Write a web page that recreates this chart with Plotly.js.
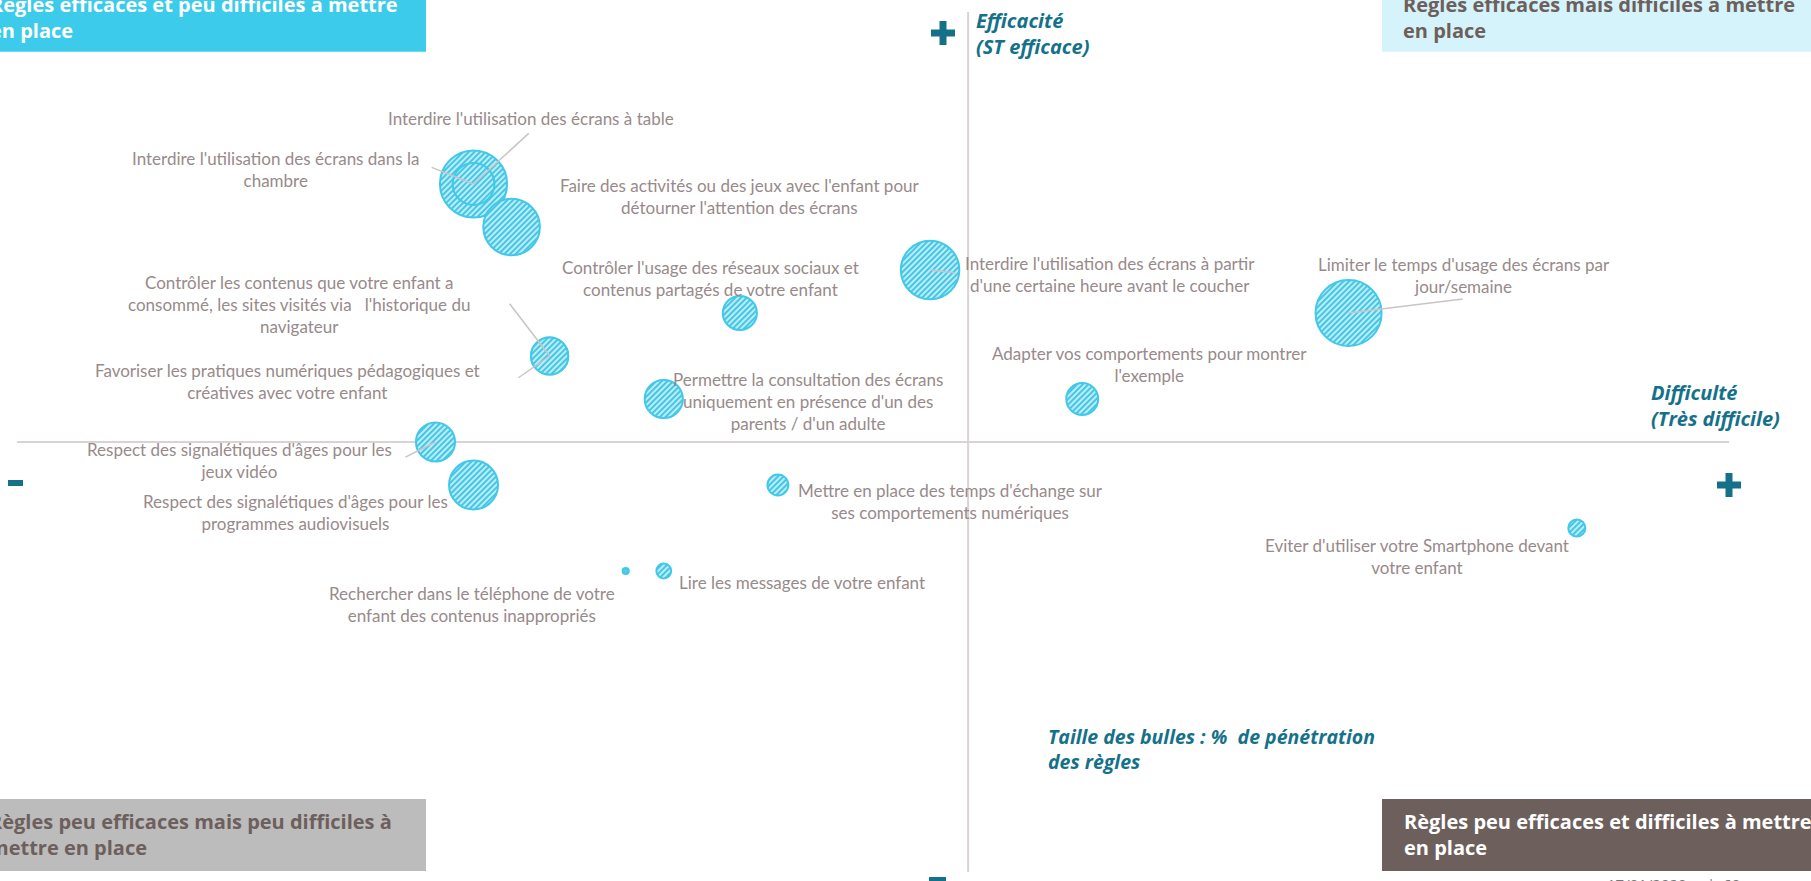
<!DOCTYPE html>
<html>
<head>
<meta charset="utf-8">
<script src="https://cdn.plot.ly/plotly-3.0.1.min.js"></script>
<style>
  html, body { margin: 0; padding: 0; background: #fff; overflow: hidden; }
  #chart { width: 1811px; height: 881px; }
</style>
</head>
<body>
<div id="chart"></div>
<script>
// règles (ordre de dessin : la plus grande bulle d'abord)
const rules = [
  "Interdire l'utilisation des écrans dans la<br>chambre",
  "Interdire l'utilisation des écrans à table",
  "Faire des activités ou des jeux avec l'enfant pour<br>détourner l'attention des écrans",
  "Interdire l'utilisation des écrans à partir<br>d'une certaine heure avant le coucher",
  "Contrôler l'usage des réseaux sociaux et<br>contenus partagés de votre enfant",
  "Contrôler les contenus que votre enfant a<br>consommé, les sites visités via\u00a0\u00a0 l'historique du<br>navigateur",
  "Favoriser les pratiques numériques pédagogiques et<br>créatives avec votre enfant",
  "Respect des signalétiques d'âges pour les<br>jeux vidéo",
  "Respect des signalétiques d'âges pour les<br>programmes audiovisuels",
  "Permettre la consultation des écrans<br>uniquement en présence d'un des<br>parents / d'un adulte",
  "Limiter le temps d'usage des écrans par<br>jour/semaine",
  "Adapter vos comportements pour montrer<br>l'exemple",
  "Mettre en place des temps d'échange sur<br>ses comportements numériques",
  "Lire les messages de votre enfant",
  "Rechercher dans le téléphone de votre<br>enfant des contenus inappropriés",
  "Eviter d'utiliser votre Smartphone devant<br>votre enfant",
];
const difficulte = [-13, -13, -12, -1, -6, -11, -11, -14, -13, -8, 10, 3, -5, -8, -9, 16];
const efficacite = [6, 6, 5, 4, 3, 2, 2, 0, -1, 1, 3, 1, -1, -3, -3, -2];
const penetration = [62, 24, 44, 47, 16, 19, 19, 21, 33, 20, 60, 14, 6, 3, 0.3, 4];

// position des libellés (mêmes unités que les axes)
const labelX = [-18.2, -11.49, -6.02, 3.73, -6.76, -17.59, -17.9, -19.14, -17.69, -4.21, 13.04, 4.78, -0.45, -4.36, -13.03, 11.8];
const labelY = [6.34, 7.53, 5.71, 3.9, 3.8, 3.2, 1.41, -0.43, -1.65, 0.94, 3.87, 1.8, -1.38, -3.26, -3.79, -2.66];
// départ des traits de rappel (null = pas de trait)
const leaderX = [-14.14, -11.51, null, -0.29, null, -12.09, -11.86, -14.83, null, null, 13.04, null, null, null, null, null];
const leaderY = [6.4, 7.21, null, 3.93, null, 3.26, 1.47, -0.37, null, null, 3.33, null, null, null, null, null];

const quadrants = [
  "Règles efficaces et peu difficiles à mettre<br>en place",
  "Règles efficaces mais difficiles à mettre<br>en place",
  "Règles peu efficaces mais peu difficiles à<br>mettre en place",
  "Règles peu efficaces et difficiles à mettre<br>en place",
];

const TEAL = "#15718a";
const BROWN = "#6d5f5c";
const LABEL = "#988a8a";

// pixels -> coordonnées paper (zone de tracé 17..1729 x 12..872)
const px = (x) => (x - 17) / 1712;
const py = (y) => (872 - y) / 860;

window.addEventListener("DOMContentLoaded", () => {
  const chart = document.getElementById("chart");

  const trace = {
    type: "scatter",
    mode: "markers",
    x: difficulte,
    y: efficacite,
    text: rules,
    hoverinfo: "text",
    cliponaxis: false,
    marker: {
      size: penetration,
      sizemode: "area",
      sizeref: 0.0275,
      color: "#c3eef9",
      opacity: 1,
      line: { color: "#42c8e8", width: penetration.map((v) => (v < 1 ? 3.5 : 2)) },
    },
  };

  const annotations = rules.map((t, i) => ({
    x: labelX[i],
    y: labelY[i],
    text: t,
    showarrow: false,
    align: "center",
    font: { family: "Lato, sans-serif", size: 17, color: LABEL },
  }));

  leaderX.forEach((lx, i) => {
    if (lx === null) return;
    annotations.push({
      x: difficulte[i],
      y: efficacite[i],
      ax: lx,
      ay: leaderY[i],
      axref: "x",
      ayref: "y",
      text: " ",
      font: { size: 1 },
      showarrow: true,
      arrowhead: 0,
      arrowwidth: 1.5,
      arrowcolor: "#cbc4c4",
      standoff: 0,
      startstandoff: 0,
    });
  });

  const boxFont = (color) => ({ family: "'Open Sans', sans-serif", size: 20, color: color });
  const quadPos = [
    [-12, 17.5, "#ffffff"],
    [1401, 17.5, BROWN],
    [-13, 834, BROWN],
    [1402, 834, "#ffffff"],
  ];
  quadrants.forEach((t, i) => {
    annotations.push({
      xref: "paper", yref: "paper",
      x: px(quadPos[i][0]), y: py(quadPos[i][1]),
      xanchor: "left", yanchor: "middle", align: "left",
      text: "<b>" + t + "</b>",
      showarrow: false,
      font: boxFont(quadPos[i][2]),
    });
  });

  const titleFont = { family: "'Open Sans', sans-serif", size: 20, color: TEAL };
  annotations.push(
    {
      xref: "paper", yref: "paper", x: px(974), y: py(33.5),
      xanchor: "left", yanchor: "middle", align: "left", showarrow: false,
      text: "<b><i>Efficacité<br>(ST efficace)</i></b>", font: titleFont,
    },
    {
      xref: "paper", yref: "paper", x: px(1649), y: py(405),
      xanchor: "left", yanchor: "middle", align: "left", showarrow: false,
      text: "<b><i>Difficulté<br>(Très difficile)</i></b>", font: titleFont,
    },
    {
      xref: "paper", yref: "paper", x: px(1046), y: py(748.5),
      xanchor: "left", yanchor: "middle", align: "left", showarrow: false,
      text: "<b><i>Taille des bulles : %  de pénétration<br>des règles</i></b>",
      font: { family: "'Open Sans', sans-serif", size: 19.5, color: TEAL },
    },
    {
      xref: "paper", yref: "paper", x: px(1673), y: py(884),
      xanchor: "center", yanchor: "middle", showarrow: false,
      text: "17/01/2020  -  |  60",
      font: { family: "'Open Sans', sans-serif", size: 15, color: "#777" },
    }
  );

  const rect = (x0, y0, x1, y1, color, layer) => ({
    type: "rect", xref: "paper", yref: "paper",
    x0: px(x0), x1: px(x1), y0: py(y1), y1: py(y0),
    fillcolor: color, line: { width: 0 }, layer: layer || "below",
  });

  const shapes = [
    rect(-5, -25, 426, 51.7, "#3ccbea"),
    rect(1382, -25, 1830, 51.7, "#d5f3fa"),
    rect(-5, 799, 426, 871, "#bcbcbc"),
    rect(1382, 799, 1830, 871, BROWN),
    // axes
    { type: "line", xref: "x", yref: "y", x0: -25, x1: 20, y0: 0, y1: 0,
      line: { color: "#d9d3d3", width: 2 }, layer: "below" },
    { type: "line", xref: "x", yref: "y", x0: 0, x1: 0, y0: -10, y1: 10,
      line: { color: "#d9d3d3", width: 2 }, layer: "below" },
    // signes + et -
    rect(931, 29.5, 955, 36.5, TEAL, "above"),
    rect(939.5, 21, 946.5, 45, TEAL, "above"),
    rect(1717, 481.5, 1741, 488.5, TEAL, "above"),
    rect(1725.5, 473, 1732.5, 497, TEAL, "above"),
    rect(8, 480, 23, 486, TEAL, "above"),
    rect(929, 877, 946, 883, TEAL, "above"),
  ];

  const layout = {
    width: 1811,
    height: 881,
    margin: { l: 17, r: 82, t: 12, b: 9, pad: 0 },
    paper_bgcolor: "#ffffff",
    plot_bgcolor: "#ffffff",
    showlegend: false,
    xaxis: { range: [-25, 20], visible: false, fixedrange: true },
    yaxis: { range: [-10, 10], visible: false, fixedrange: true },
    shapes: shapes,
    annotations: annotations,
  };

  const config = { displayModeBar: false, staticPlot: true };

  Plotly.newPlot(chart, [trace], layout, config).then((gd) => {
    // hachures des bulles
    const ns = "http://www.w3.org/2000/svg";
    const defs = gd.querySelector("svg.main-svg defs");
    const pattern = document.createElementNS(ns, "pattern");
    pattern.setAttribute("id", "hatch");
    pattern.setAttribute("patternUnits", "userSpaceOnUse");
    pattern.setAttribute("width", "4");
    pattern.setAttribute("height", "4");
    pattern.setAttribute("patternTransform", "rotate(45)");
    const bg = document.createElementNS(ns, "rect");
    bg.setAttribute("width", "4");
    bg.setAttribute("height", "4");
    bg.setAttribute("fill", "#bdecf8");
    const stripe = document.createElementNS(ns, "line");
    stripe.setAttribute("x1", "2");
    stripe.setAttribute("y1", "0");
    stripe.setAttribute("x2", "2");
    stripe.setAttribute("y2", "4");
    stripe.setAttribute("stroke", "#3cc6e6");
    stripe.setAttribute("stroke-width", "1.9");
    pattern.appendChild(bg);
    pattern.appendChild(stripe);
    defs.appendChild(pattern);
    gd.querySelectorAll(".scatterlayer .point").forEach((p) => {
      p.style.fill = "url(#hatch)";
    });
  });
});
</script>
</body>
</html>
